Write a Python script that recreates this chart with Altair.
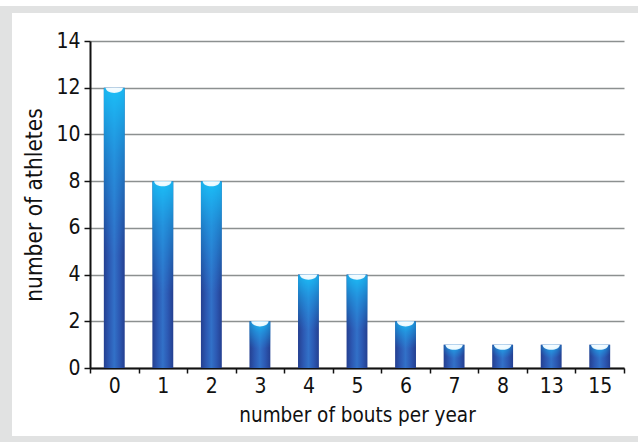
import altair as alt
import pandas as pd

# data
bouts = ["0", "1", "2", "3", "4", "5", "6", "7", "8", "13", "15"]
athletes = [12, 8, 8, 2, 4, 4, 2, 1, 1, 1, 1]
y_ticks = [0, 2, 4, 6, 8, 10, 12, 14]

df = pd.DataFrame({"bouts": bouts, "athletes": athletes})

FONT = "DejaVu Sans Condensed, Roboto"

x_enc = alt.X(
    "bouts:N",
    sort=bouts,
    scale=alt.Scale(paddingInner=0, paddingOuter=0),
    axis=alt.Axis(
        title="number of bouts per year",
        labelAngle=0,
        tickBand="extent",
        domainColor="#111111",
        domainWidth=2,
        tickColor="#111111",
        tickWidth=1.5,
        tickSize=5,
        labelFontSize=21,
        labelColor="#111111",
        labelPadding=2,
        titleFontSize=20.5,
        titleFontWeight="normal",
        titleColor="#111111",
        titlePadding=9,
        grid=False,
    ),
)
y_enc = alt.Y(
    "athletes:Q",
    scale=alt.Scale(domain=[0, 14], nice=False),
    axis=alt.Axis(
        title="number of athletes",
        values=y_ticks,
        domainColor="#111111",
        domainWidth=2,
        tickColor="#111111",
        tickWidth=1.5,
        tickSize=6,
        labelFontSize=21,
        labelColor="#111111",
        labelPadding=4,
        titleFontSize=22.5,
        titleFontWeight="normal",
        titleColor="#111111",
        titlePadding=9,
        grid=True,
        gridColor="#8c9090",
        gridWidth=1.6,
    ),
)

side_grad = alt.LinearGradient(
    gradient="linear",
    x1=0, y1=0, x2=1, y2=0,
    stops=[
        alt.GradientStop(offset=0, color="#243f90"),
        alt.GradientStop(offset=0.25, color="#2c58b2"),
        alt.GradientStop(offset=0.5, color="#3271c8"),
        alt.GradientStop(offset=0.75, color="#2c58b2"),
        alt.GradientStop(offset=1, color="#243f90"),
    ],
)
glow_grad = alt.RadialGradient(
    gradient="radial",
    x1=0.5, y1=0, x2=0.5, y2=0, r1=0, r2=0.6,
    stops=[
        alt.GradientStop(offset=0, color="rgba(25,195,250,0.95)"),
        alt.GradientStop(offset=0.4, color="rgba(25,175,240,0.55)"),
        alt.GradientStop(offset=1, color="rgba(25,160,235,0)"),
    ],
)
cap_grad = alt.RadialGradient(
    gradient="radial",
    x1=0.5, y1=0, x2=0.5, y2=0, r1=0, r2=1,
    stops=[
        alt.GradientStop(offset=0, color="#ffffff"),
        alt.GradientStop(offset=0.6, color="#eefaff"),
        alt.GradientStop(offset=1, color="#70d2f6"),
    ],
)

base = alt.Chart(df)
bars = base.mark_bar(width=alt.RelativeBandSize(0.43), fill=side_grad).encode(x=x_enc, y=y_enc)
glow = base.mark_bar(width=alt.RelativeBandSize(0.43), fill=glow_grad).encode(x=x_enc, y=y_enc)
caps = base.mark_point(
    shape="M -1 0 A 1 0.6 0 0 0 1 0 Z",
    size=300,
    filled=True,
    fill=cap_grad,
    opacity=1,
    strokeWidth=0,
).encode(x=x_enc, y=y_enc)

# decorative grey frame around the figure
frame_df = pd.DataFrame({"k": [0]})
frame = alt.Chart(frame_df)
top_band = frame.mark_rect(color="#e1e2e2", clip=False).encode(
    x=alt.value(-90), x2=alt.value(548), y=alt.value(-35), y2=alt.value(-28)
)
left_band = frame.mark_rect(color="#e1e2e2", clip=False).encode(
    x=alt.value(-90), x2=alt.value(-78), y=alt.value(-35), y2=alt.value(401)
)
bottom_band = frame.mark_rect(color="#e1e2e2", clip=False).encode(
    x=alt.value(-90), x2=alt.value(548), y=alt.value(395), y2=alt.value(401)
)

chart = (
    alt.layer(top_band, left_band, bottom_band, bars, glow, caps)
    .properties(
        width=534,
        height=327,
        autosize=alt.AutoSizeParams(type="none"),
        padding={"left": 90, "top": 41, "right": 14, "bottom": 74},
        background="white",
    )
    .configure_view(stroke=None)
    .configure_axis(labelFont=FONT, titleFont=FONT)
)

chart.save("out.html", embed_options={"renderer": "svg", "actions": False})
